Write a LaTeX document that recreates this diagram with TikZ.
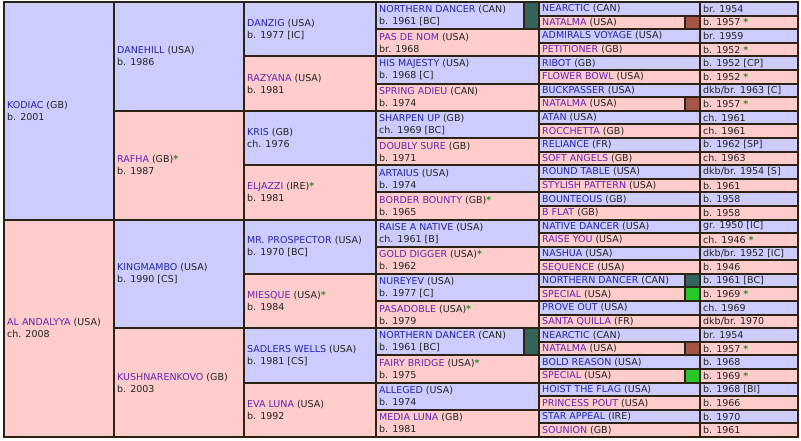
\documentclass[tikz,border=0pt]{standalone}
\usepackage{fontspec}
\setmainfont{DejaVu Sans}
\definecolor{bord}{RGB}{45,35,20}
\definecolor{mfillc}{RGB}{204,204,255}
\definecolor{ffillc}{RGB}{255,204,204}
\definecolor{mname}{RGB}{35,35,170}
\definecolor{fname}{RGB}{100,35,175}
\definecolor{txtc}{RGB}{34,34,34}
\definecolor{starc}{RGB}{40,140,40}
\definecolor{mkdark}{RGB}{50,100,90}
\definecolor{mkbrown}{RGB}{165,85,70}
\definecolor{mkgreen}{RGB}{40,200,40}
\newcommand\rowh{13.594}
\newcommand\st{\textcolor{starc}{\textbf{*}}}
% pedigree cell: id, xl, xr, first row, span, sex, name, rest
\newcommand\hc[8]{%
  \path[#6cell] (#2,{2+#4*\rowh}) rectangle (#3,{2+(#4+#5)*\rowh});
  \node[txt] (#1) at ({#2+3},{2+(#4+#5/2)*\rowh}) {\textcolor{#6name}{#7}#8};
}
% fifth generation cell: id, row, sex, name, country, year
\newcommand\gc[6]{%
  \path[#3cell] (539,{2+#2*\rowh}) rectangle (700,{2+(#2+1)*\rowh});
  \path[#3cell] (700,{2+#2*\rowh}) rectangle (798,{2+(#2+1)*\rowh});
  \node[txt] (#1) at (542,{2+(#2+0.5)*\rowh}) {\textcolor{#3name}{#4} #5};
  \node[txt] (#1y) at (703,{2+(#2+0.5)*\rowh}) {#6};
}
% marker box: xl, first row, span, colour
\newcommand\mk[4]{%
  \path[markbox, fill=#4] (#1,{2+#2*\rowh}) rectangle ({#1+15},{2+(#2+#3)*\rowh});
}
\tikzset{
  mcell/.style={fill=mfillc, draw=bord, line width=2pt},
  fcell/.style={fill=ffillc, draw=bord, line width=2pt},
  markbox/.style={draw=bord, line width=2pt},
  txt/.style={inner sep=0pt, anchor=west, align=left, text=txtc,
    font=\fontsize{9.5}{12}\selectfont},
}
\begin{document}
\begin{tikzpicture}[x=1pt,y=-1pt]
\useasboundingbox (0,0) rectangle (801,440);
\fill[white] (0,0) rectangle (801,440);
% generation 1
\hc{g1a}{4}{114}{0}{16}{m}{KODIAC}{ (GB)\\b. 2001}
\hc{g1b}{4}{114}{16}{16}{f}{AL ANDALYYA}{ (USA)\\ch. 2008}
% generation 2
\hc{g2a}{114}{244}{0}{8}{m}{DANEHILL}{ (USA)\\b. 1986}
\hc{g2b}{114}{244}{8}{8}{f}{RAFHA}{ (GB)\st\\b. 1987}
\hc{g2c}{114}{244}{16}{8}{m}{KINGMAMBO}{ (USA)\\b. 1990 [CS]}
\hc{g2d}{114}{244}{24}{8}{f}{KUSHNARENKOVO}{ (GB)\\b. 2003}
% generation 3
\hc{g3a}{244}{376}{0}{4}{m}{DANZIG}{ (USA)\\b. 1977 [IC]}
\hc{g3b}{244}{376}{4}{4}{f}{RAZYANA}{ (USA)\\b. 1981}
\hc{g3c}{244}{376}{8}{4}{m}{KRIS}{ (GB)\\ch. 1976}
\hc{g3d}{244}{376}{12}{4}{f}{ELJAZZI}{ (IRE)\st\\b. 1981}
\hc{g3e}{244}{376}{16}{4}{m}{MR. PROSPECTOR}{ (USA)\\b. 1970 [BC]}
\hc{g3f}{244}{376}{20}{4}{f}{MIESQUE}{ (USA)\st\\b. 1984}
\hc{g3g}{244}{376}{24}{4}{m}{SADLERS WELLS}{ (USA)\\b. 1981 [CS]}
\hc{g3h}{244}{376}{28}{4}{f}{EVA LUNA}{ (USA)\\b. 1992}
% generation 4
\hc{g4a}{376}{539}{0}{2}{m}{NORTHERN DANCER}{ (CAN)\\b. 1961 [BC]}
\hc{g4b}{376}{539}{2}{2}{f}{PAS DE NOM}{ (USA)\\br. 1968}
\hc{g4c}{376}{539}{4}{2}{m}{HIS MAJESTY}{ (USA)\\b. 1968 [C]}
\hc{g4d}{376}{539}{6}{2}{f}{SPRING ADIEU}{ (CAN)\\b. 1974}
\hc{g4e}{376}{539}{8}{2}{m}{SHARPEN UP}{ (GB)\\ch. 1969 [BC]}
\hc{g4f}{376}{539}{10}{2}{f}{DOUBLY SURE}{ (GB)\\b. 1971}
\hc{g4g}{376}{539}{12}{2}{m}{ARTAIUS}{ (USA)\\b. 1974}
\hc{g4h}{376}{539}{14}{2}{f}{BORDER BOUNTY}{ (GB)\st\\b. 1965}
\hc{g4i}{376}{539}{16}{2}{m}{RAISE A NATIVE}{ (USA)\\ch. 1961 [B]}
\hc{g4j}{376}{539}{18}{2}{f}{GOLD DIGGER}{ (USA)\st\\b. 1962}
\hc{g4k}{376}{539}{20}{2}{m}{NUREYEV}{ (USA)\\b. 1977 [C]}
\hc{g4l}{376}{539}{22}{2}{f}{PASADOBLE}{ (USA)\st\\b. 1979}
\hc{g4m}{376}{539}{24}{2}{m}{NORTHERN DANCER}{ (CAN)\\b. 1961 [BC]}
\hc{g4n}{376}{539}{26}{2}{f}{FAIRY BRIDGE}{ (USA)\st\\b. 1975}
\hc{g4o}{376}{539}{28}{2}{m}{ALLEGED}{ (USA)\\b. 1974}
\hc{g4p}{376}{539}{30}{2}{f}{MEDIA LUNA}{ (GB)\\b. 1981}
\mk{524}{0}{2}{mkdark}
\mk{524}{24}{2}{mkdark}
% generation 5
\gc{g5a}{0}{m}{NEARCTIC}{(CAN)}{br. 1954}
\gc{g5b}{1}{f}{NATALMA}{(USA)}{b. 1957 \st}
\gc{g5c}{2}{m}{ADMIRALS VOYAGE}{(USA)}{br. 1959}
\gc{g5d}{3}{f}{PETITIONER}{(GB)}{b. 1952 \st}
\gc{g5e}{4}{m}{RIBOT}{(GB)}{b. 1952 [CP]}
\gc{g5f}{5}{f}{FLOWER BOWL}{(USA)}{b. 1952 \st}
\gc{g5g}{6}{m}{BUCKPASSER}{(USA)}{dkb/br. 1963 [C]}
\gc{g5h}{7}{f}{NATALMA}{(USA)}{b. 1957 \st}
\gc{g5i}{8}{m}{ATAN}{(USA)}{ch. 1961}
\gc{g5j}{9}{f}{ROCCHETTA}{(GB)}{ch. 1961}
\gc{g5k}{10}{m}{RELIANCE}{(FR)}{b. 1962 [SP]}
\gc{g5l}{11}{f}{SOFT ANGELS}{(GB)}{ch. 1963}
\gc{g5m}{12}{m}{ROUND TABLE}{(USA)}{dkb/br. 1954 [S]}
\gc{g5n}{13}{f}{STYLISH PATTERN}{(USA)}{b. 1961}
\gc{g5o}{14}{m}{BOUNTEOUS}{(GB)}{b. 1958}
\gc{g5p}{15}{f}{B FLAT}{(GB)}{b. 1958}
\gc{g5q}{16}{m}{NATIVE DANCER}{(USA)}{gr. 1950 [IC]}
\gc{g5r}{17}{f}{RAISE YOU}{(USA)}{ch. 1946 \st}
\gc{g5s}{18}{m}{NASHUA}{(USA)}{dkb/br. 1952 [IC]}
\gc{g5t}{19}{f}{SEQUENCE}{(USA)}{b. 1946}
\gc{g5u}{20}{m}{NORTHERN DANCER}{(CAN)}{b. 1961 [BC]}
\gc{g5v}{21}{f}{SPECIAL}{(USA)}{b. 1969 \st}
\gc{g5w}{22}{m}{PROVE OUT}{(USA)}{ch. 1969}
\gc{g5x}{23}{f}{SANTA QUILLA}{(FR)}{dkb/br. 1970}
\gc{g5y}{24}{m}{NEARCTIC}{(CAN)}{br. 1954}
\gc{g5z}{25}{f}{NATALMA}{(USA)}{b. 1957 \st}
\gc{g5A}{26}{m}{BOLD REASON}{(USA)}{b. 1968}
\gc{g5B}{27}{f}{SPECIAL}{(USA)}{b. 1969 \st}
\gc{g5C}{28}{m}{HOIST THE FLAG}{(USA)}{b. 1968 [BI]}
\gc{g5D}{29}{f}{PRINCESS POUT}{(USA)}{b. 1966}
\gc{g5E}{30}{m}{STAR APPEAL}{(IRE)}{b. 1970}
\gc{g5F}{31}{f}{SOUNION}{(GB)}{b. 1961}
\mk{685}{1}{1}{mkbrown}
\mk{685}{7}{1}{mkbrown}
\mk{685}{20}{1}{mkdark}
\mk{685}{21}{1}{mkgreen}
\mk{685}{25}{1}{mkbrown}
\mk{685}{27}{1}{mkgreen}
\end{tikzpicture}
\end{document}
